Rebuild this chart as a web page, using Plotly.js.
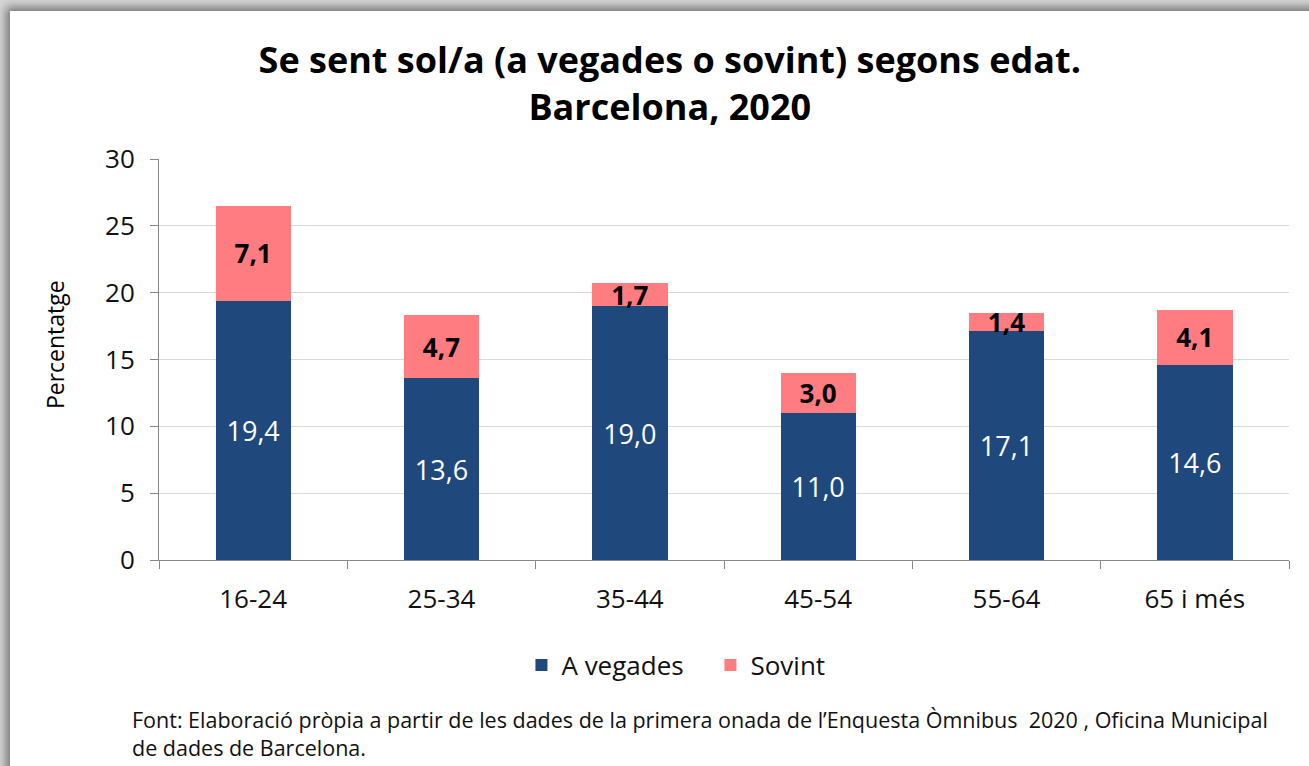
<!DOCTYPE html>
<html>
<head>
<meta charset="utf-8">
<script src="https://cdn.plot.ly/plotly-3.0.1.min.js"></script>
<style>
  html, body { margin:0; padding:0; width:1309px; height:766px; overflow:hidden; background:#d6d6d6; }
  #frame { position:absolute; left:10px; top:11px; width:1320px; height:780px; background:#fff;
           box-shadow: -4px -4px 9px rgba(0,0,0,0.45); }
  #chart { position:absolute; left:0; top:0; width:1309px; height:766px; }
</style>
</head>
<body>
<div id="frame"></div>
<div id="chart"></div>
<script>
var categories = ['16-24', '25-34', '35-44', '45-54', '55-64', '65 i més'];
var aVegades = [19.4, 13.6, 19.0, 11.0, 17.1, 14.6];
var sovint = [7.1, 4.7, 1.7, 3.0, 1.4, 4.1];
var yTicks = [0, 5, 10, 15, 20, 25, 30];

var FONT = '"Open Sans", "Noto Sans", sans-serif';

var traces = [
  {
    type: 'bar', name: 'A vegades', x: categories, y: aVegades,
    marker: { color: '#1F497D' },
    texttemplate: '%{y:.1f}', textposition: 'inside', insidetextanchor: 'middle',
    constraintext: 'none',
    textfont: { color: '#ffffff', size: 27, family: FONT },
    hoverinfo: 'skip'
  },
  {
    type: 'bar', name: 'Sovint', x: categories, y: sovint,
    marker: { color: '#FF7C80' },
    texttemplate: '<b>%{y:.1f}</b>', textposition: 'inside', insidetextanchor: 'middle',
    constraintext: 'none',
    textfont: { color: '#000000', size: 26, family: FONT },
    hoverinfo: 'skip'
  }
];

var layout = {
  width: 1309, height: 766,
  paper_bgcolor: 'rgba(0,0,0,0)', plot_bgcolor: 'rgba(0,0,0,0)',
  separators: ',.',
  barmode: 'stack', bargap: 0.6,
  font: { family: FONT, color: '#000' },
  margin: { l: 159, r: 20, t: 159, b: 206 },
  title: {
    text: '<b>Se sent sol/a (a vegades o sovint) segons edat.<br>Barcelona, 2020</b>',
    font: { size: 36, family: FONT, color: '#000' },
    x: 0.452, xanchor: 'center', xref: 'paper',
    y: 0.905, yanchor: 'middle', yref: 'container'
  },
  xaxis: {
    type: 'category',
    showline: true, linecolor: '#868686', linewidth: 1,
    ticks: 'outside', tickson: 'boundaries', ticklen: 8, tickcolor: '#868686',
    tickfont: { size: 26, family: FONT, color: '#111' },
    ticklabelstandoff: 16,
    showgrid: false
  },
  yaxis: {
    range: [0, 30], tickvals: yTicks,
    showline: true, linecolor: '#868686', linewidth: 1,
    ticks: 'outside', ticklen: 8, tickcolor: '#868686',
    tickfont: { size: 26, family: FONT, color: '#111' },
    ticklabelstandoff: 10,
    showgrid: true, gridcolor: '#d9d9d9', gridwidth: 1,
    zeroline: false
  },
  legend: {
    orientation: 'h', x: 0.488, xanchor: 'center', y: -0.262, yanchor: 'middle',
    font: { size: 26, family: FONT, color: '#111' },
    traceorder: 'normal', itemwidth: 30, entrywidth: 144
  },
  annotations: [
    {
      xref: 'paper', yref: 'paper', x: -0.092, xanchor: 'center', y: 0.536, yanchor: 'middle',
      textangle: -90, showarrow: false, text: 'Percentatge',
      font: { size: 23, family: FONT, color: '#000' }
    },
    {
      xref: 'paper', yref: 'paper', x: -0.026, xanchor: 'left', y: -0.357, yanchor: 'top',
      align: 'left', showarrow: false,
      text: 'Font: Elaboració pròpia a partir de les dades de la primera onada de l’Enquesta Òmnibus  2020 , Oficina Municipal<br>de dades de Barcelona.',
      font: { size: 21.5, family: FONT, color: '#111' }
    }
  ]
};

Plotly.newPlot('chart', traces, layout, { displayModeBar: false, staticPlot: true });
</script>
</body>
</html>
